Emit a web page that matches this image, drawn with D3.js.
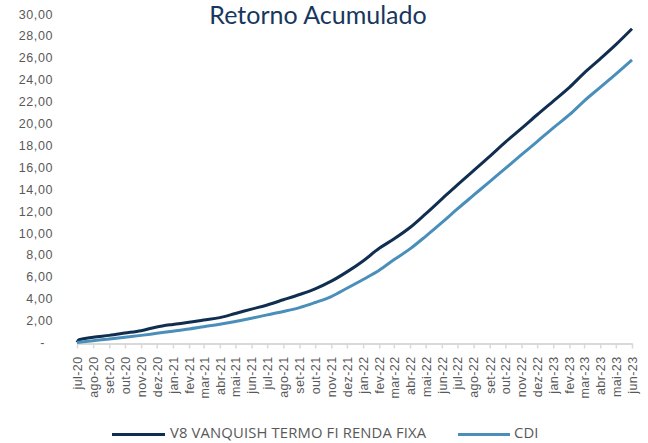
<!doctype html>
<html>
<head>
  <meta charset="utf-8">
  <style>
    body { margin:0; background:#fff; }
    svg { display:block; font-family:"Open Sans", sans-serif; }
  </style>
  <script src="https://d3js.org/d3.v7.min.js"></script>
</head>
<body>
  <script>
    // month labels (one per tick)
    var months = ["jul-20","ago-20","set-20","out-20","nov-20","dez-20",
                  "jan-21","fev-21","mar-21","abr-21","mai-21","jun-21",
                  "jul-21","ago-21","set-21","out-21","nov-21","dez-21",
                  "jan-22","fev-22","mar-22","abr-22","mai-22","jun-22",
                  "jul-22","ago-22","set-22","out-22","nov-22","dez-22",
                  "jan-23","fev-23","mar-23","abr-23","mai-23","jun-23"];

    // dates of the points (first days + month starts)
    var dates = ["2020-07-01","2020-07-05","2020-08-01","2020-09-01","2020-10-01","2020-11-01","2020-12-01",
                 "2021-01-01","2021-02-01","2021-03-01","2021-04-01","2021-05-01","2021-06-01",
                 "2021-07-01","2021-08-01","2021-09-01","2021-10-01","2021-11-01","2021-12-01",
                 "2022-01-01","2022-02-01","2022-03-01","2022-04-01","2022-05-01","2022-06-01",
                 "2022-07-01","2022-08-01","2022-09-01","2022-10-01","2022-11-01","2022-12-01",
                 "2023-01-01","2023-02-01","2023-03-01","2023-04-01","2023-05-01","2023-06-01"];

    // cumulative return (%)
    var v8 = [0, 0.25, 0.48, 0.65, 0.86, 1.08, 1.42, 1.65, 1.84, 2.05, 2.27, 2.65, 3.05,
              3.43, 3.9, 4.38, 4.9, 5.6, 6.45, 7.45, 8.6, 9.45, 10.5, 11.75, 13.1,
              14.4, 15.7, 17.0, 18.3, 19.55, 20.8, 22.05, 23.3, 24.6, 25.9, 27.2, 28.65];
    var cdi = [0, 0.02, 0.16, 0.32, 0.48, 0.65, 0.84, 1.03, 1.23, 1.44, 1.67, 1.92, 2.22,
               2.52, 2.83, 3.18, 3.65, 4.2, 4.95, 5.75, 6.6, 7.55, 8.55, 9.7, 10.95,
               12.2, 13.45, 14.7, 15.9, 17.15, 18.35, 19.6, 20.8, 22.05, 23.3, 24.5, 25.8];

    var yTicks = d3.range(0, 31, 2);

    var seriesNames = ["V8 VANQUISH TERMO FI RENDA FIXA", "CDI"];
    var colors = ["#0f2e50", "#4a8fb9"];

    var parse = d3.timeParse("%Y-%m-%d");
    var monthDates = d3.timeMonths(parse("2020-07-01"), parse("2023-06-02"));

    var svg = d3.select("body").append("svg")
      .attr("width", 648)
      .attr("height", 443);

    var x = d3.scaleTime()
      .domain([parse("2020-07-01"), parse("2023-06-01")])
      .range([77, 632]);
    var y = d3.scaleLinear().domain([0, 30]).range([342.5, 14]);

    // title
    svg.append("text")
      .attr("x", 318)
      .attr("y", 24)
      .attr("text-anchor", "middle")
      .style("font-family", "Lato, sans-serif")
      .style("font-size", "25px")
      .style("fill", "#17375e")
      .text("Retorno Acumulado");

    // y axis (labels only)
    var yAxis = svg.append("g")
      .attr("transform", "translate(77,0)")
      .call(d3.axisLeft(y)
        .tickValues(yTicks)
        .tickSize(0)
        .tickPadding(24)
        .tickFormat(function(d) { return d === 0 ? "-" : d3.format(".2f")(d).replace(".", ","); }));
    yAxis.select(".domain").remove();
    yAxis.selectAll("text")
      .style("font-size", "12.5px")
      .style("letter-spacing", "0.6px")
      .style("fill", "#595959")
      .attr("dx", function(d) { return d === 0 ? -8 : 0; });

    // x axis
    var xAxis = svg.append("g")
      .attr("transform", "translate(0,343.5)")
      .call(d3.axisBottom(x)
        .tickValues(monthDates)
        .tickSize(5)
        .tickSizeOuter(0)
        .tickFormat(function(d, i) { return months[i]; }));
    xAxis.select(".domain").attr("stroke", "#d9d9d9").attr("stroke-width", 2);
    xAxis.selectAll(".tick line").attr("stroke", "#d9d9d9").attr("stroke-width", 1.5);
    xAxis.selectAll("text")
      .attr("transform", "rotate(-90)")
      .attr("text-anchor", "end")
      .attr("x", -13)
      .attr("y", 0)
      .attr("dy", "0.35em")
      .style("font-size", "12.5px")
      .style("letter-spacing", "0.4px")
      .style("fill", "#595959");

    // lines
    var line = d3.line()
      .x(function(d, i) { return x(parse(dates[i])); })
      .y(function(d) { return y(d); })
      .curve(d3.curveMonotoneX);

    [v8, cdi].forEach(function(s, k) {
      svg.append("path")
        .datum(s)
        .attr("fill", "none")
        .attr("stroke", colors[k])
        .attr("stroke-width", 3)
        .attr("stroke-linejoin", "round")
        .attr("d", line);
    });

    // legend
    var legendPos = [[112, 165, 170], [458, 510, 514]];
    seriesNames.forEach(function(name, k) {
      var p = legendPos[k];
      svg.append("line")
        .attr("x1", p[0]).attr("x2", p[1])
        .attr("y1", 434.5).attr("y2", 434.5)
        .attr("stroke", colors[k])
        .attr("stroke-width", 3);
      svg.append("text")
        .attr("x", p[2])
        .attr("y", 437.5)
        .style("font-size", "14.8px")
        .style("letter-spacing", "0.15px")
        .style("fill", "#595959")
        .text(name);
    });
  </script>
</body>
</html>
